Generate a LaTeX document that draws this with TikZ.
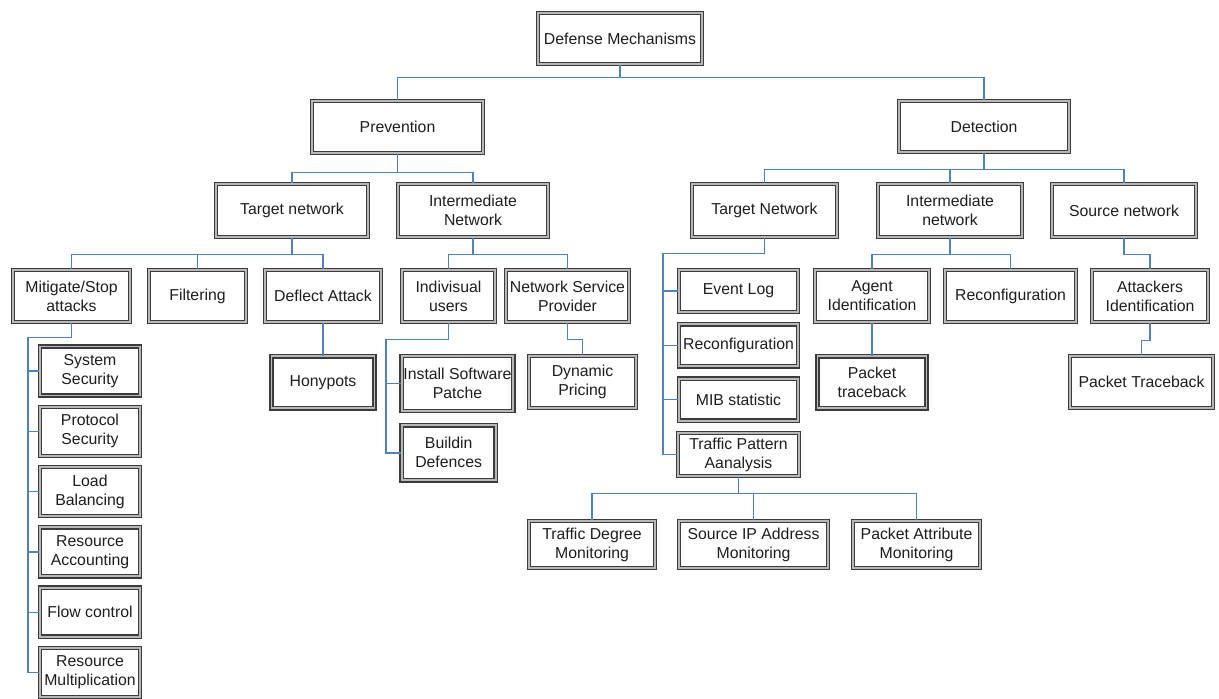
\documentclass[tikz,border=0pt]{standalone}
\usepackage{fontspec}
\setmainfont{Liberation Sans}
\usetikzlibrary{positioning,calc}
\definecolor{Frame}{HTML}{3C3C3C}
\definecolor{Gap}{HTML}{B8B8B8}
\definecolor{Wire}{HTML}{4F81BD}
\definecolor{Type}{HTML}{1E1E1E}
\tikzset{
  box/.style={draw=Frame, double=Gap, double distance=1.1pt, line width=0.75pt, fill=white, align=center, text=Type, inner xsep=1pt, inner ysep=2pt, font=\fontsize{9}{10.8}\selectfont},
  link/.style={draw=Wire, line width=0.8pt}
}

\begin{document}
\begin{tikzpicture}[x=0.02cm, y=-0.02cm, node distance=0.2cm]
  \useasboundingbox (0,0) rectangle (1219,698);

  \node[box, minimum width=3.28cm, minimum height=1.02cm] (root) at (620,38.5) {Defense Mechanisms};
  \node[box, minimum width=3.42cm, minimum height=1.04cm] (prev) at (397.5,127) {Prevention};
  \node[box, minimum width=3.40cm, minimum height=1.02cm] (det) at (984,126.5) {Detection};
  \draw[link] (root.south) -- ++(0,13) -| (prev.north);
  \draw[link] (root.south) -- ++(0,13) -| (det.north);

  % prevention side
  \node[box, minimum width=3.04cm, minimum height=1.06cm] (pTarget) at (292,210.5) {Target network};
  \node[box, minimum width=3.00cm, minimum height=1.06cm] (pInter) at (473,210.5) {Intermediate\\Network};
  \draw[link] (prev.south) -- ++(0,19) -| (pTarget.north);
  \draw[link] (prev.south) -- ++(0,19) -| (pInter.north);

  \node[box, minimum width=2.34cm, minimum height=1.04cm] (mitigate) at (71.5,296) {Mitigate/Stop\\attacks};
  \node[box, minimum width=1.94cm, minimum height=1.04cm] (filtering) at (197.5,296) {Filtering};
  \node[box, minimum width=2.32cm, minimum height=1.04cm] (deflect) at (323,296) {Deflect Attack};
  \node[box, minimum width=1.86cm, minimum height=1.04cm] (users) at (448.5,296) {Indivisual\\users};
  \node[box, minimum width=2.46cm, minimum height=1.04cm] (nsp) at (567.5,296) {Network Service\\Provider};
  \draw[link] (pTarget.south) -- ++(0,17) -| (mitigate.north);
  \draw[link] (pTarget.south) -- ++(0,17) -| (filtering.north);
  \draw[link] (pTarget.south) -- ++(0,17) -| (deflect.north);
  \draw[link] (pInter.south) -- ++(0,17) -| (users.north);
  \draw[link] (pInter.south) -- ++(0,17) -| (nsp.north);

  \node[box, below=0.66cm of deflect, minimum width=2.06cm, minimum height=1.04cm] (honeypots) {Honypots};
  \node[box, minimum width=2.22cm, minimum height=1.10cm] (patch) at (457.5,383.5) {Install Software\\Patche};
  \node[box, below=0.26cm of patch.south west, anchor=north west, minimum width=1.88cm, minimum height=1.10cm] (defences) {Buildin\\Defences};
  \node[box, minimum width=2.14cm, minimum height=1.04cm] (pricing) at (582.5,382) {Dynamic\\Pricing};
  \draw[link] (deflect.south) -- (honeypots.north);
  \draw[link] (nsp.south) -- ++(0,17) -| (pricing.north);
  \coordinate (urail) at (386,0);
  \draw[link] (users.south) -- ++(0,17) -| (defences.west -| urail) -- (defences.west);
  \draw[link] (patch.west) -- (patch.west -| urail);

  \node[box, minimum width=2.00cm, minimum height=0.98cm] (sysSec) at (90,371) {System\\Security};
  \node[box, below=of sysSec, minimum width=2.00cm, minimum height=0.98cm] (protoSec) {Protocol\\Security};
  \node[box, below=of protoSec, minimum width=2.00cm, minimum height=0.98cm] (loadBal) {Load\\Balancing};
  \node[box, below=of loadBal, minimum width=2.00cm, minimum height=0.98cm] (resAcc) {Resource\\Accounting};
  \node[box, below=of resAcc, minimum width=2.00cm, minimum height=0.98cm] (flowCtl) {Flow control};
  \node[box, below=of flowCtl, minimum width=2.00cm, minimum height=0.98cm] (resMul) {Resource\\Multiplication};
  \coordinate (mrail) at (28,0);
  \draw[link] (mitigate.south) -- ++(0,15) -| (resMul.west -| mrail) -- (resMul.west);
  \foreach \n in {sysSec,protoSec,loadBal,resAcc,flowCtl}
    \draw[link] (\n.west) -- (\n.west -| mrail);

  % detection side
  \node[box, minimum width=2.90cm, minimum height=1.06cm] (dTarget) at (764.5,210.5) {Target Network};
  \node[box, minimum width=2.88cm, minimum height=1.06cm] (dInter) at (950,210.5) {Intermediate\\network};
  \node[box, minimum width=2.88cm, minimum height=1.06cm] (dSource) at (1124,210.5) {Source network};
  \draw[link] (det.south) -- ++(0,17) -| (dTarget.north);
  \draw[link] (det.south) -- ++(0,17) -| (dInter.north);
  \draw[link] (det.south) -- ++(0,17) -| (dSource.north);

  \node[box, minimum width=2.38cm, minimum height=0.84cm] (eventlog) at (738.5,291) {Event Log};
  \node[box, below=0.22cm of eventlog, minimum width=2.38cm, minimum height=0.84cm] (dreconf) {Reconfiguration};
  \node[box, below=0.22cm of dreconf, minimum width=2.38cm, minimum height=0.84cm] (mib) {MIB statistic};
  \node[box, below=0.22cm of mib, minimum width=2.42cm, minimum height=0.86cm] (pattern) {Traffic Pattern\\Aanalysis};
  \coordinate (drail) at (663,0);
  \draw[link] (dTarget.south) -- ++(0,16) -| (pattern.west -| drail) -- (pattern.west);
  \foreach \n in {eventlog,dreconf,mib}
    \draw[link] (\n.west) -- (\n.west -| drail);

  \node[box, minimum width=2.52cm, minimum height=0.94cm] (degree) at (592,544.5) {Traffic Degree\\Monitoring};
  \node[box, minimum width=2.98cm, minimum height=0.94cm] (srcip) at (753.5,544.5) {Source IP Address\\Monitoring};
  \node[box, minimum width=2.54cm, minimum height=0.94cm] (attrib) at (916.5,544.5) {Packet Attribute\\Monitoring};
  \draw[link] (pattern.south) -- ++(0,17) -| (degree.north);
  \draw[link] (pattern.south) -- ++(0,17) -| (srcip.north);
  \draw[link] (pattern.south) -- ++(0,17) -| (attrib.north);

  \node[box, minimum width=2.28cm, minimum height=1.04cm] (agent) at (872,296) {Agent\\Identification};
  \node[box, minimum width=2.62cm, minimum height=1.04cm] (reconf) at (1010.5,296) {Reconfiguration};
  \node[box, minimum width=2.32cm, minimum height=1.04cm] (attackers) at (1150,296) {Attackers\\Identification};
  \draw[link] (dInter.south) -- ++(0,17) -| (agent.north);
  \draw[link] (dInter.south) -- ++(0,17) -| (reconf.north);
  \draw[link] (dSource.south) -- ++(0,17) -| (attackers.north);

  \node[box, below=0.66cm of agent, minimum width=2.18cm, minimum height=1.04cm] (traceA) {Packet\\traceback};
  \node[box, minimum width=2.86cm, minimum height=1.04cm] (traceB) at (1141.5,382) {Packet Traceback};
  \draw[link] (agent.south) -- (traceA.north);
  \draw[link] (attackers.south) -- ++(0,18) -| (traceB.north);
\end{tikzpicture}
\end{document}
